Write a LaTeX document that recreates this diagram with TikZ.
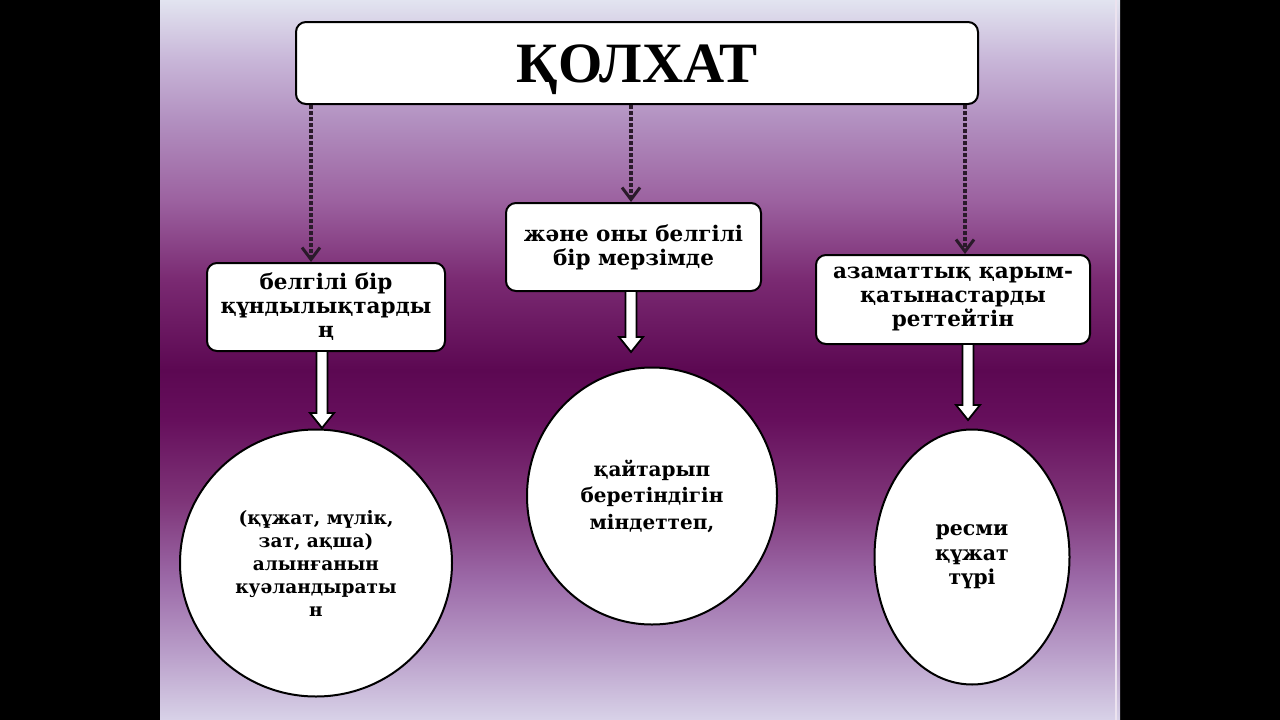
\documentclass[tikz,border=0pt]{standalone}
\usepackage{fontspec}
\setmainfont{DejaVu Serif}
\newfontfamily\titlefont{Liberation Serif}
\usetikzlibrary{arrows.meta,shapes.geometric,calc}
\definecolor{g0}{HTML}{E2E4F0}
\definecolor{g60}{HTML}{C8B6D8}
\definecolor{g120}{HTML}{B290C0}
\definecolor{g200}{HTML}{9C62A0}
\definecolor{g280}{HTML}{7A2A72}
\definecolor{g370}{HTML}{5C0852}
\definecolor{g420}{HTML}{660F5C}
\definecolor{g500}{HTML}{7E3478}
\definecolor{g580}{HTML}{9C6AA8}
\definecolor{g650}{HTML}{B89CC8}
\definecolor{g720}{HTML}{D8D2E8}
\definecolor{dashcol}{HTML}{2A1A2A}
\pgfdeclareverticalshading{bgshade}{100bp}{color(0bp)=(g720); color(25bp)=(g720); color(29.86bp)=(g650); color(34.72bp)=(g580); color(40.28bp)=(g500); color(45.83bp)=(g420); color(49.31bp)=(g370); color(55.56bp)=(g280); color(61.11bp)=(g200); color(66.67bp)=(g120); color(70.83bp)=(g60); color(75bp)=(g0); color(100bp)=(g0)}
\newcommand\blockarrow[3]{%
  \filldraw[blockarr] ($(#1 -| #3)+(-5.5,0)$) -- ($(#2 -| #3)+(-5.5,-15)$) -- ($(#2 -| #3)+(-12,-15)$) -- (#2 -| #3) -- ($(#2 -| #3)+(12,-15)$) -- ($(#2 -| #3)+(5.5,-15)$) -- ($(#1 -| #3)+(5.5,0)$);}
\begin{document}
\begin{tikzpicture}[x=1pt,y=-1pt,
  box/.style={draw=black, line width=2pt, fill=white, rounded corners=10pt, inner sep=0pt, align=center, font=\bfseries\fontsize{21.5}{24}\selectfont},
  oval/.style={draw=black, line width=2pt, fill=white, ellipse, inner sep=0pt, align=center},
  dasharr/.style={draw=dashcol, line width=3.5pt, dash pattern=on 4pt off 2pt, -{Straight Barb[length=12pt,width=18pt,line width=3pt]}},
  blockarr/.style={draw=black, line width=1.8pt, fill=white, line join=miter}]
\useasboundingbox (0,0) rectangle (1280,720);
\fill[black] (0,0) rectangle (1280,720);
\shade[shading=bgshade] (160,0) rectangle (1120,720);
\draw[white!75!g120, line width=2.5pt] (1116,0) -- (1116,720);
% title
\node[box, minimum width=682pt, minimum height=82pt, font=\titlefont\bfseries\fontsize{57}{60}\selectfont] (title) at (637,63) {\raisebox{-19pt}[0pt][0pt]{ҚОЛХАТ}};
% boxes
\node[box, minimum width=238pt, minimum height=88pt] (lbox) at (326,307) {белгілі бір\\құндылықтарды\\ң};
\node[box, minimum width=255pt, minimum height=88pt] (mbox) at (633.5,247) {және оны белгілі\\бір мерзімде};
\node[box, minimum width=274pt, minimum height=89pt] (rbox) at (953,299.5) {азаматтық қарым-\\қатынастарды\\реттейтін};
% ellipses
\node[oval, minimum width=272pt, minimum height=267pt, font=\bfseries\fontsize{18.5}{23}\selectfont] (lell) at (316,563) {(құжат, мүлік,\\зат, ақша)\\алынғанын\\куәландыраты\\н};
\node[oval, minimum width=250pt, minimum height=257pt, font=\bfseries\fontsize{20}{26.5}\selectfont] (mell) at (652,496) {қайтарып\\беретіндігін\\міндеттеп,};
\node[oval, minimum width=195pt, minimum height=255pt, font=\bfseries\fontsize{20.5}{24.5}\selectfont] (rell) at (972,557) {ресми\\құжат\\түрі};
% dashed connectors
\coordinate (d1) at (311,0);
\coordinate (d2) at (631,0);
\coordinate (d3) at (965,0);
\draw[dasharr] (title.south -| d1) -- (lbox.north -| d1);
\draw[dasharr] (title.south -| d2) -- (mbox.north -| d2);
\draw[dasharr] (title.south -| d3) -- (rbox.north -| d3);
% block arrows
\coordinate (b1) at (322,0);
\coordinate (b2) at (631,0);
\coordinate (b3) at (968,0);
\coordinate (t1) at (322,428);
\coordinate (t2) at (631,352);
\coordinate (t3) at (968,420);
\blockarrow{lbox.south}{t1}{b1}
\blockarrow{mbox.south}{t2}{b2}
\blockarrow{rbox.south}{t3}{b3}
\end{tikzpicture}
\end{document}
